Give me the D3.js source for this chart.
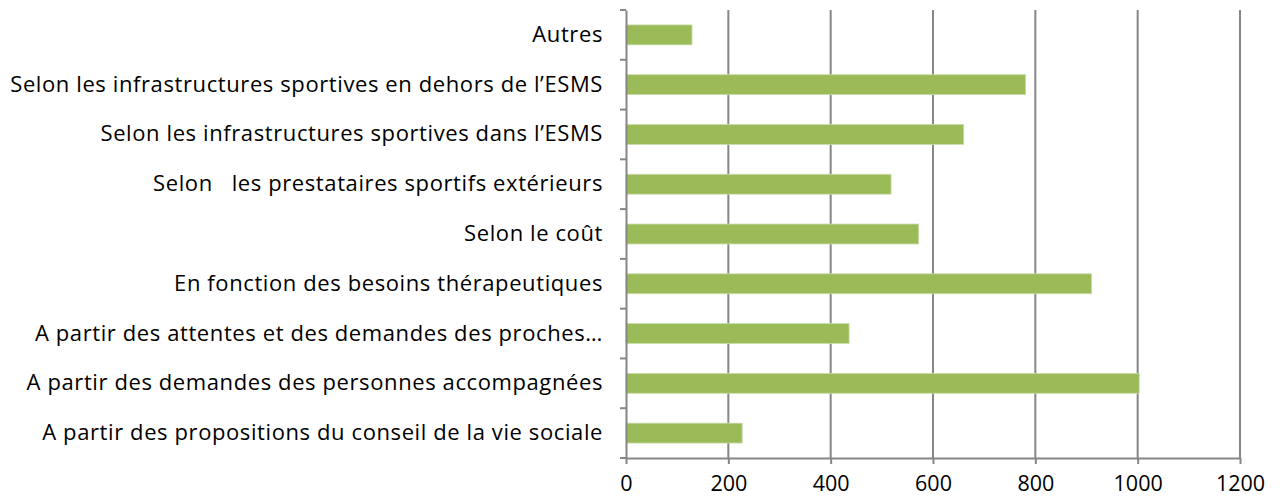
<!DOCTYPE html>
<html>
<head>
<meta charset="utf-8">
<script src="https://cdn.jsdelivr.net/npm/d3@7"></script>
<style>
  body { margin: 0; background: #fff; }
  text { font-family: "Open Sans", sans-serif; fill: #000; }
</style>
</head>
<body>
<div id="chart"></div>
<script>
// categories, top to bottom
var categories = [
    'Autres',
    'Selon les infrastructures sportives en dehors de l\u2019ESMS',
    'Selon les infrastructures sportives dans l\u2019ESMS',
    'Selon\u00a0\u00a0 les prestataires sportifs ext\u00e9rieurs',
    'Selon le co\u00fbt',
    'En fonction des besoins th\u00e9rapeutiques',
    'A partir des attentes et des demandes des proches\u2026',
    'A partir des demandes des personnes accompagn\u00e9es',
    'A partir des propositions du conseil de la vie sociale'
];
var values = [129, 781, 660, 518, 572, 910, 436, 1003, 227];
var x_ticks = [0, 200, 400, 600, 800, 1000, 1200];

var width  = 1282;
var height = 500;
var margin = {top: 10, right: 42, bottom: 42, left: 626};

var bar_color  = '#9bbb59';
var grid_color = '#868686';

var data = categories.map(function(c, i) {
    return {name: c, value: values[i]};
});

var svg = d3.select('#chart')
    .append('svg')
    .attr('width', width)
    .attr('height', height);

var x_scale = d3.scaleLinear()
    .domain([0, 1200])
    .range([margin.left, width - margin.right]);

var y_scale = d3.scaleBand()
    .domain(categories)
    .range([margin.top, height - margin.bottom])
    .paddingInner(0.6)
    .paddingOuter(0.3);

// vertical gridlines
svg.append('g')
    .selectAll('line')
    .data(x_ticks.slice(1))
    .enter()
    .append('line')
    .attr('x1', function(d) { return x_scale(d); })
    .attr('x2', function(d) { return x_scale(d); })
    .attr('y1', margin.top)
    .attr('y2', height - margin.bottom)
    .attr('stroke', grid_color)
    .attr('stroke-width', 2);

// bars
svg.append('g')
    .selectAll('rect')
    .data(data)
    .enter()
    .append('rect')
    .attr('x', x_scale(0))
    .attr('y', function(d) { return y_scale(d.name); })
    .attr('width', function(d) { return x_scale(d.value) - x_scale(0); })
    .attr('height', y_scale.bandwidth())
    .attr('fill', bar_color)
    .attr('stroke', '#c9dcab')
    .attr('stroke-width', 0.8);

// x axis
var x_axis = d3.axisBottom(x_scale)
    .tickValues(x_ticks)
    .tickFormat(d3.format('d'))
    .tickSize(6)
    .tickPadding(12)
    .tickSizeOuter(0);
var gx = svg.append('g')
    .attr('transform', 'translate(0,' + (height - margin.bottom) + ')')
    .call(x_axis);
gx.selectAll('path, line').attr('stroke', grid_color).attr('stroke-width', 2);
gx.selectAll('text').attr('font-size', 21.5).style('font-family', '"Open Sans", sans-serif');

// y axis: labels centred on bars, ticks at band boundaries
var y_axis = d3.axisLeft(y_scale)
    .tickSize(0)
    .tickPadding(23)
    .tickSizeOuter(0);
var gy = svg.append('g')
    .attr('transform', 'translate(' + margin.left + ',0)')
    .call(y_axis);
gy.select('.domain').attr('stroke', grid_color).attr('stroke-width', 2);
gy.selectAll('text')
    .attr('font-size', 22)
    .style('letter-spacing', '0.6px')
    .style('font-family', '"Open Sans", sans-serif');

var bounds = d3.range(categories.length + 1).map(function(i) {
    return margin.top + i * (height - margin.top - margin.bottom) / categories.length;
});
gy.selectAll('.bound')
    .data(bounds)
    .enter()
    .append('line')
    .attr('class', 'bound')
    .attr('x1', -6)
    .attr('x2', 0)
    .attr('y1', function(d) { return d; })
    .attr('y2', function(d) { return d; })
    .attr('stroke', grid_color)
    .attr('stroke-width', 2);
</script>
</body>
</html>
